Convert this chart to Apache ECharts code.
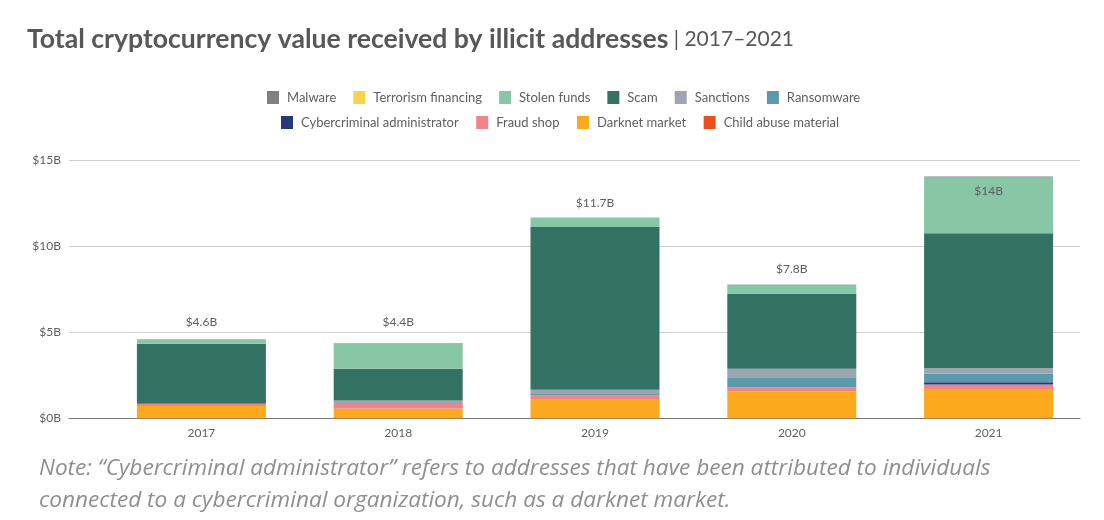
<!DOCTYPE html>
<html>
<head>
<meta charset="utf-8">
<style>
html, body { margin: 0; padding: 0; background: #fff; }
#chart { width: 1104px; height: 520px; }
</style>
<script src="https://cdn.jsdelivr.net/npm/echarts@6/dist/echarts.min.js"></script>
</head>
<body>
<div id="chart"></div>
<script>
var years = ['2017', '2018', '2019', '2020', '2021'];
var totals = ['$4.6B', '$4.4B', '$11.7B', '$7.8B', '$14B'];
var yTicks = [0, 5, 10, 15];

var childAbuse = [0.01, 0.01, 0.01, 0.01, 0.01];
var darknet = [0.72, 0.55, 1.13, 1.56, 1.7];
var fraudShop = [0.13, 0.29, 0.2, 0.23, 0.27];
var cyberAdmin = [0, 0, 0, 0, 0.13];
var ransomware = [0, 0, 0.09, 0.56, 0.51];
var sanctions = [0, 0.19, 0.24, 0.53, 0.31];
var scam = [3.49, 1.85, 9.47, 4.36, 7.84];
var stolenFunds = [0.22, 1.46, 0.54, 0.53, 3.27];
var terrorism = [0, 0, 0, 0, 0];
var malware = [0.02, 0.03, 0.01, 0.01, 0.03];

var font = 'Lato';
var textColor = '#5f5f5f';

// bottom of the stack first
var stackSeries = [
    { name: 'Child abuse material', data: childAbuse, color: '#e8501e' },
    { name: 'Darknet market', data: darknet, color: '#fbaa1e' },
    { name: 'Fraud shop', data: fraudShop, color: '#f0848c' },
    { name: 'Cybercriminal administrator', data: cyberAdmin, color: '#26387a' },
    { name: 'Ransomware', data: ransomware, color: '#5a9aac' },
    { name: 'Sanctions', data: sanctions, color: '#9ca5b0' },
    { name: 'Scam', data: scam, color: '#337263' },
    { name: 'Stolen funds', data: stolenFunds, color: '#87c7a6' },
    { name: 'Terrorism financing', data: terrorism, color: '#fbd249' },
    { name: 'Malware', data: malware, color: '#808080' }
];

// the total labels sit at their own height above each bar, 2021 inside
var labelLift = [-6, -10, -3, -4, 26];

var series = stackSeries.map(function (s) {
    var item = {
        name: s.name,
        type: 'bar',
        stack: 'total',
        xAxisIndex: 1,
        yAxisIndex: 1,
        barWidth: 129,
        itemStyle: { color: s.color },
        data: s.data
    };
    if (s.name === 'Malware') {
        item.data = s.data.map(function (v, i) {
            return {
                value: v,
                label: {
                    show: true,
                    position: 'top',
                    offset: [0, labelLift[i]],
                    formatter: totals[i],
                    color: textColor,
                    fontFamily: font,
                    fontSize: 12
                }
            };
        });
    }
    return item;
});

function legendRow(left, top, gap, names) {
    return {
        left: left,
        top: top,
        orient: 'horizontal',
        itemWidth: 12,
        itemHeight: 13,
        itemGap: gap,
        icon: 'rect',
        selectedMode: false,
        textStyle: { color: textColor, fontFamily: font, fontSize: 13, padding: [0, 0, 0, 3] },
        data: names
    };
}

var chart = echarts.init(document.getElementById('chart'));
chart.setOption({
    backgroundColor: '#fff',
    animation: false,
    title: [{
        left: 22,
        top: 21,
        text: '{a|Total cryptocurrency value received by illicit addresses}{b| | 2017–2021}',
        textStyle: {
            rich: {
                a: { fontFamily: font, fontWeight: 'bold', fontSize: 26.6, color: '#585858' },
                b: { fontFamily: font, fontWeight: 'normal', fontSize: 21, color: '#585858' }
            }
        }
    }, {
        left: 34,
        top: 448,
        text: 'Note: “Cybercriminal administrator” refers to addresses that have been attributed to individuals\nconnected to a cybercriminal organization, such as a darknet market.',
        textStyle: {
            fontFamily: 'Open Sans',
            fontStyle: 'italic',
            fontWeight: 'normal',
            fontSize: 22.6,
            lineHeight: 32,
            color: '#8f8f8f'
        }
    }],
    legend: [
        legendRow(262, 86, 17, ['Malware', 'Terrorism financing', 'Stolen funds', 'Scam', 'Sanctions', 'Ransomware']),
        legendRow(276, 111, 17.5, ['Cybercriminal administrator', 'Fraud shop', 'Darknet market', 'Child abuse material'])
    ],
    // grid 0 carries the rules and $ ticks, grid 1 places the bars
    grid: [
        { left: 69, right: 24, top: 160.5, height: 258 },
        { left: 103, width: 984, top: 160.5, height: 258 }
    ],
    xAxis: [{
        gridIndex: 0,
        type: 'value',
        min: 0,
        max: 1,
        axisLabel: { show: false },
        axisTick: { show: false },
        splitLine: { show: false },
        axisLine: { show: true, lineStyle: { color: '#777', width: 1 } }
    }, {
        gridIndex: 1,
        type: 'category',
        data: years,
        axisLine: { show: false },
        axisTick: { show: false },
        axisLabel: { color: textColor, fontFamily: font, fontSize: 12, margin: 9 }
    }],
    yAxis: [{
        gridIndex: 0,
        type: 'value',
        min: yTicks[0],
        max: yTicks[yTicks.length - 1],
        interval: 5,
        axisLine: { show: false },
        axisTick: { show: false },
        axisLabel: {
            color: textColor,
            fontFamily: font,
            fontSize: 12,
            margin: 8,
            formatter: '${value}B'
        },
        splitLine: { lineStyle: { color: '#d0d0d0', width: 1 } }
    }, {
        gridIndex: 1,
        type: 'value',
        min: yTicks[0],
        max: yTicks[yTicks.length - 1],
        show: false
    }],
    series: series
});
</script>
</body>
</html>
